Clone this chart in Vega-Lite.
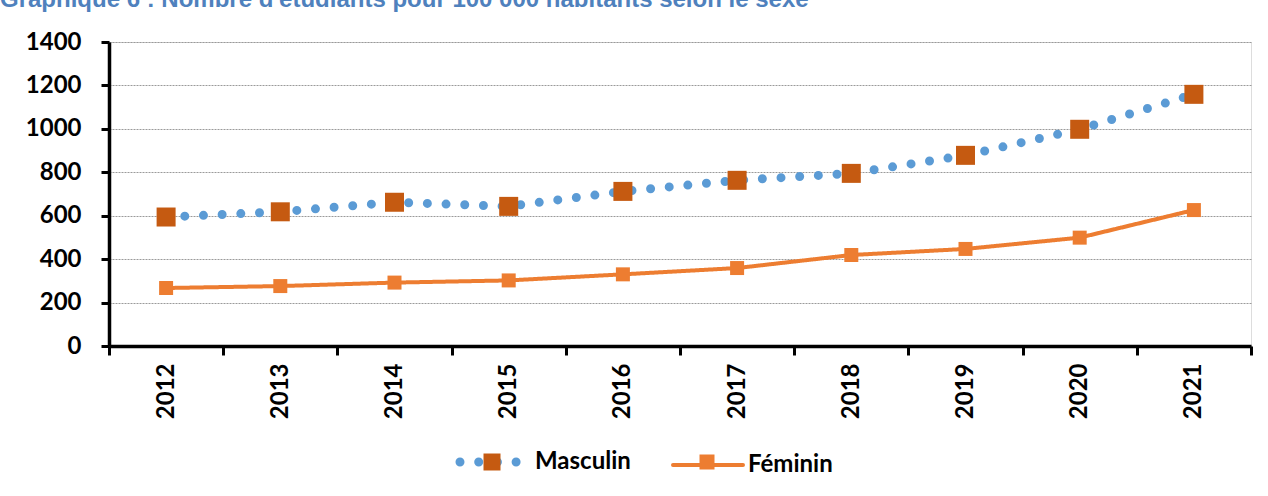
{
  "$schema": "https://vega.github.io/schema/vega-lite/v6.json",
  "width": 1142,
  "height": 304,
  "autosize": {"type": "none"},
  "padding": {"left": 109, "top": 42, "right": 17, "bottom": 150},
  "background": "#ffffff",
  "title": {
    "text": "Graphique 6 : Nombre d'étudiants pour 100 000 habitants selon le sexe",
    "anchor": "start",
    "frame": "group",
    "dx": -109,
    "dy": 5,
    "offset": 4,
    "baseline": "alphabetic",
    "color": "#4F81BD",
    "font": "Liberation Sans",
    "fontSize": 24,
    "fontWeight": "bold"
  },
  "data": {
    "values": [
      {"annee": "2012", "sexe": "Masculin", "valeur": 594},
      {"annee": "2013", "sexe": "Masculin", "valeur": 618},
      {"annee": "2014", "sexe": "Masculin", "valeur": 662},
      {"annee": "2015", "sexe": "Masculin", "valeur": 643},
      {"annee": "2016", "sexe": "Masculin", "valeur": 712},
      {"annee": "2017", "sexe": "Masculin", "valeur": 763},
      {"annee": "2018", "sexe": "Masculin", "valeur": 795},
      {"annee": "2019", "sexe": "Masculin", "valeur": 878},
      {"annee": "2020", "sexe": "Masculin", "valeur": 998},
      {"annee": "2021", "sexe": "Masculin", "valeur": 1159},
      {"annee": "2012", "sexe": "Féminin", "valeur": 267},
      {"annee": "2013", "sexe": "Féminin", "valeur": 276},
      {"annee": "2014", "sexe": "Féminin", "valeur": 292},
      {"annee": "2015", "sexe": "Féminin", "valeur": 302},
      {"annee": "2016", "sexe": "Féminin", "valeur": 330},
      {"annee": "2017", "sexe": "Féminin", "valeur": 359},
      {"annee": "2018", "sexe": "Féminin", "valeur": 419},
      {"annee": "2019", "sexe": "Féminin", "valeur": 447},
      {"annee": "2020", "sexe": "Féminin", "valeur": 499},
      {"annee": "2021", "sexe": "Féminin", "valeur": 626}
    ]
  },
  "encoding": {
    "x": {
      "field": "annee",
      "type": "ordinal",
      "bandPosition": 0.5,
      "scale": {"type": "band", "paddingInner": 0, "paddingOuter": 0},
      "axis": {
        "title": null,
        "tickBand": "extent",
        "labelAngle": 270,
        "labelFont": "Lato",
        "labelFontSize": 24,
        "labelFontWeight": "bold",
        "labelColor": "#000000",
        "labelPadding": 8,
        "tickSize": 9,
        "tickWidth": 3,
        "tickColor": "#000000",
        "domainColor": "#000000",
        "domainWidth": 3.5,
        "grid": false
      }
    },
    "y": {
      "field": "valeur",
      "type": "quantitative",
      "scale": {"domain": [0, 1400], "nice": false},
      "axis": {
        "title": null,
        "format": "d",
        "values": [0, 200, 400, 600, 800, 1000, 1200, 1400],
        "labelFont": "Lato",
        "labelFontSize": 24,
        "labelFontWeight": "bold",
        "labelColor": "#000000",
        "labelPadding": 20,
        "tickSize": 8,
        "tickWidth": 3,
        "tickColor": "#000000",
        "domainColor": "#000000",
        "domainWidth": 3.5,
        "grid": true,
        "gridColor": "#9a9a9a",
        "gridWidth": 1,
        "gridDash": [2, 1]
      }
    }
  },
  "layer": [
    {
      "transform": [{"filter": "datum.sexe === 'Masculin'"}],
      "mark": {"type": "line", "strokeWidth": 9, "strokeCap": "round"},
      "encoding": {
        "stroke": {
          "field": "sexe",
          "type": "nominal",
          "scale": {"domain": ["Masculin", "Féminin"], "range": ["#5B9BD5", "#ED7D31"]},
          "legend": {
            "orient": "none",
            "legendX": 374,
            "legendY": 408,
            "direction": "horizontal",
            "title": null,
            "padding": 0,
            "symbolType": "M-1.25,0H1.25",
            "symbolSize": 3136,
            "symbolStrokeWidth": 9,
            "labelFont": "Lato",
            "labelFontSize": 24,
            "labelFontWeight": "bold",
            "labelColor": "#000000",
            "labelOffset": 28,
            "columnPadding": 34,
            "encode": {"symbols": {"update": {
              "strokeWidth": {"signal": "datum.value === 'Masculin' ? 9 : 4"},
              "strokeCap": {"value": "round"}
            }}}
          }
        },
        "strokeDash": {
          "field": "sexe",
          "type": "nominal",
          "scale": {"domain": ["Masculin", "Féminin"], "range": [[0, 18.7], [1, 0]]}
        }
      }
    },
    {
      "transform": [{"filter": "datum.sexe === 'Féminin'"}],
      "mark": {"type": "line", "strokeWidth": 4, "strokeCap": "round"},
      "encoding": {
        "stroke": {"field": "sexe", "type": "nominal"},
        "strokeDash": {"field": "sexe", "type": "nominal"}
      }
    },
    {
      "transform": [{"filter": "datum.sexe === 'Masculin'"}],
      "mark": {"type": "point", "shape": "square", "filled": true, "opacity": 1, "size": 361, "strokeWidth": 0},
      "encoding": {
        "fill": {
          "field": "sexe",
          "type": "nominal",
          "sort": "descending",
          "scale": {"range": ["#C55A11", "#ED7D31"]},
          "legend": {
            "orient": "none",
            "legendX": 371,
            "legendY": 408,
            "direction": "horizontal",
            "title": null,
            "padding": 0,
            "symbolType": "square",
            "symbolSize": 289,
            "symbolStrokeWidth": 0,
            "symbolStrokeColor": "transparent",
            "symbolOpacity": 1,
            "labelFont": "Lato",
            "labelFontSize": 24,
            "labelFontWeight": "bold",
            "labelOpacity": 0,
            "labelOffset": 28,
            "columnPadding": 67,
            "encode": {"symbols": {"update": {
              "size": {"signal": "datum.value === 'Masculin' ? 289 : 225"}
            }}}
          }
        }
      }
    },
    {
      "transform": [{"filter": "datum.sexe === 'Féminin'"}],
      "mark": {"type": "point", "shape": "square", "filled": true, "opacity": 1, "size": 196, "strokeWidth": 0},
      "encoding": {
        "fill": {"field": "sexe", "type": "nominal", "sort": "descending"}
      }
    }
  ]
}
